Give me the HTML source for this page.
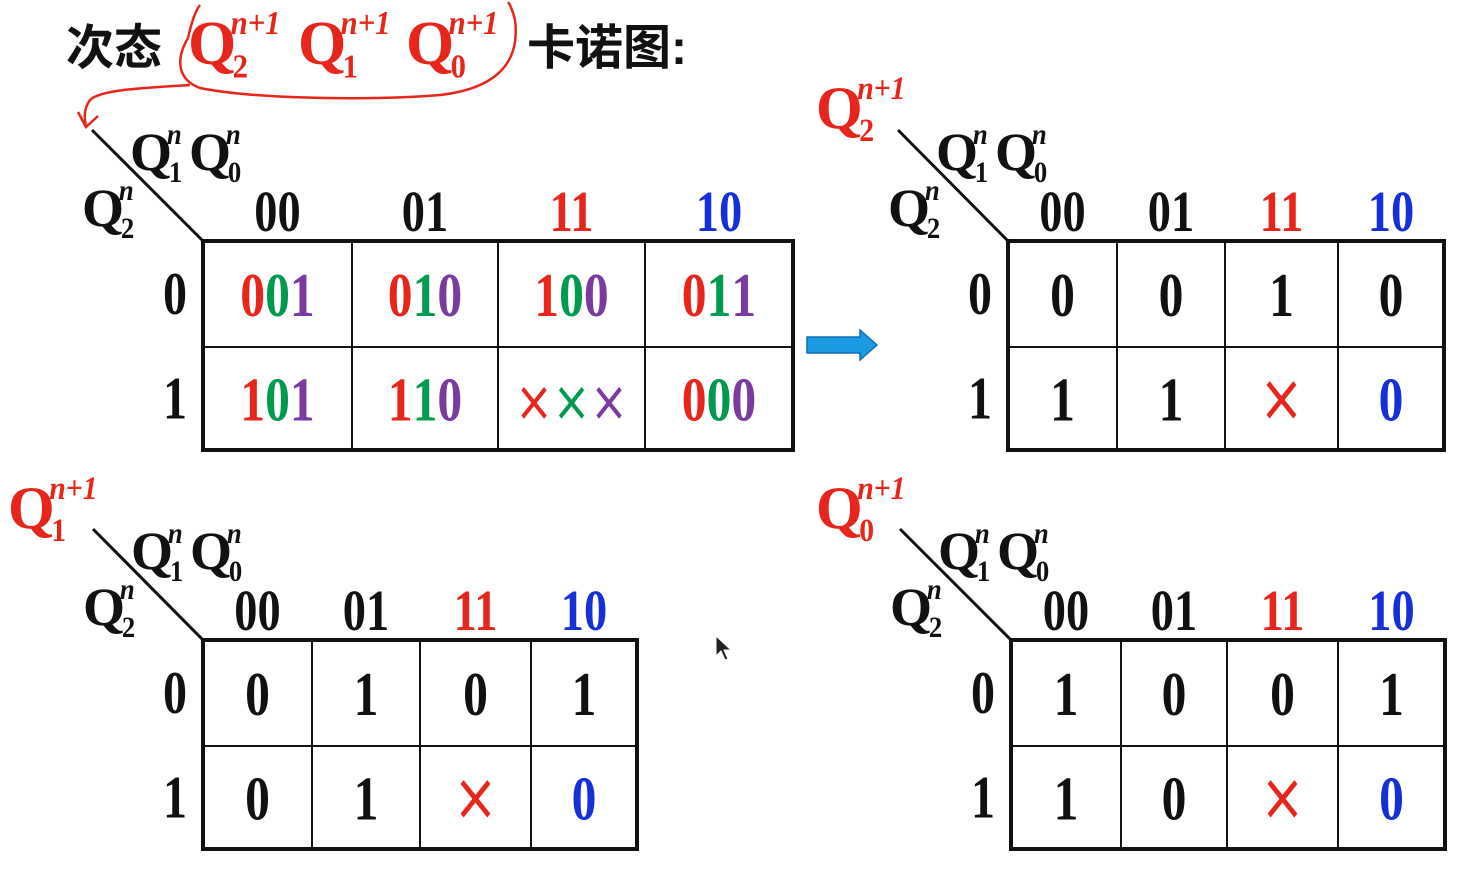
<!DOCTYPE html>
<html><head><meta charset="utf-8"><style>
html,body{margin:0;padding:0;background:#fff;width:1484px;height:875px;overflow:hidden}
svg{display:block}
text{font-family:"Liberation Serif","Noto Serif CJK SC",serif;font-weight:bold}
.cjk{font-family:"Liberation Sans","Noto Sans CJK SC",sans-serif;font-weight:bold}
</style></head><body>
<svg id="s" width="1484" height="875" viewBox="0 0 1484 875">
<text class="cjk" x="66" y="64" font-size="48" fill="#111">次态</text>
<text class="cjk" x="527" y="64" font-size="48" fill="#111">卡诺图:</text>
<path d="M188,38 C175,60 178,80 200,88 C260,100 380,100 440,95 C500,88 520,60 515,20 M188,38 C192,20 196,10 200,5 M515,20 C513,12 511,6 508,2" fill="none" stroke="#e8251b" stroke-width="2.5"/>
<path d="M190,85 C140,88 100,90 90,100 C84,108 84,118 86,126 M78,112 L86,127 L98,116" fill="none" stroke="#e8251b" stroke-width="2.5"/>
<path d="M807,337 L860,337 L860,330 L877,345 L860,360 L860,353 L807,353 Z" fill="#1a9ae0" stroke="#0f6fb0" stroke-width="1.5"/>
<path d="M716,636 L716,656 L721,651 L725,660 L728,659 L724,650 L731,650 Z" fill="#222" stroke="#fff" stroke-width="1"/>
</svg>
<script>
const colLabels = ["00","01","11","10"];
const colLabelColors = ["#111","#111","#e8251b","#1530d8"];
const rowLabels = ["0","1"];
const mapNext = [["001","010","100","011"],["101","110","×××","000"]];
const mapQ2 = [["0","0","1","0"],["1","1","×","0"]];
const mapQ1 = [["0","1","0","1"],["0","1","×","0"]];
const mapQ0 = [["1","0","0","1"],["1","0","×","0"]];
const digitColors = ["#e8251b","#009a4e","#7a3aa0"];

const NS="http://www.w3.org/2000/svg";
const svg=document.getElementById('s');
const SX=0.8;
function el(tag,attrs,parent){const e=document.createElementNS(NS,tag);for(const k in attrs)e.setAttribute(k,attrs[k]);(parent||svg).appendChild(e);return e;}
function txt(x,y,str,size,fill,parent,anchor,italic,sx){
  const g=el('g',{transform:'translate('+x+','+y+') scale('+(sx||SX)+',1)'},parent);
  const t=el('text',{x:0,y:0,'font-size':size,fill:fill,'text-anchor':anchor||'start'},g);
  if(italic)t.setAttribute('font-style','italic');
  t.textContent=str;return t;}
function Q(x,y,sub,sup,size,fill,parent){
  const g=el('g',{},parent);
  
  
  txt(x,y,'Q',size,fill,g,'start',false,1);
  const w=size*0.72;
  txt(x+w,y+size*0.22,sub,size*0.55,fill,g,'start',false,0.9);
  txt(x+w-2,y-size*0.48,sup,size*0.55,fill,g,'start',true,0.9);
  return g;
}
Q(188,64,'2','n+1',62,'#e8251b');
Q(298,64,'1','n+1',62,'#e8251b');
Q(406,64,'0','n+1',62,'#e8251b');

function drawMap(cfg){
  const g=el('g',{});
  
  
  const [x0,y0,x1,y1]=cfg.box;const cols=cfg.cols;const ymid=cfg.ymid;
  const ln=el('line',{x1:cfg.diag[0],y1:cfg.diag[1],x2:x0,y2:y0,stroke:'#111','stroke-width':3},g);
  
  
  for(let i=1;i<4;i++){el('line',{x1:cols[i],y1:y0,x2:cols[i],y2:y1,stroke:'#111','stroke-width':2},g);}
  el('line',{x1:x0,y1:ymid,x2:x1,y2:ymid,stroke:'#111','stroke-width':2},g);
  const r=el('rect',{x:x0,y:y0,width:x1-x0,height:y1-y0,fill:'none',stroke:'#111','stroke-width':4},g);
  
  
  Q(cfg.diag[0]+38,cfg.diag[1]+40,'1','n',54,'#111',g);
  Q(cfg.diag[0]+97,cfg.diag[1]+40,'0','n',54,'#111',g);
  Q(cfg.diag[0]-10,cfg.diag[1]+96,'2','n',54,'#111',g);
  if(cfg.title)Q(cfg.title[0],cfg.title[1],cfg.title[2],'n+1',60,'#e8251b',g);
  for(let c=0;c<4;c++){
    const cx=(cols[c]+cols[c+1])/2;
    const t=txt(cx,y0-10,colLabels[c],58,colLabelColors[c],g,'middle');
    
    
  }
  const rowsY=[(y0+ymid)/2,(ymid+y1)/2];
  for(let r2=0;r2<2;r2++){
    const t=txt(x0-16,rowsY[r2]+20,rowLabels[r2],60,'#111',g,'end');
    
    
    for(let c=0;c<4;c++){
      const cx=(cols[c]+cols[c+1])/2;const v=cfg.data[r2][c];
      const gg=el('g',{transform:'translate('+cx+','+(rowsY[r2]+22)+') scale('+SX+',1)'},g);
      const t2=el('text',{x:0,y:0,'font-size':62,'text-anchor':'middle'},gg);
      
      
      for(let k=0;k<v.length;k++){
        const sp=el('tspan',{},t2);
        let col;
        if(cfg.multi)col=digitColors[k];
        else if(v[k]==='×')col='#e8251b';
        else if(r2===1&&c===3)col='#1530d8';
        else col='#111';
        sp.setAttribute('fill',col);
        if(v[k]==='×'){sp.setAttribute('font-weight','normal');sp.setAttribute('font-family','DejaVu Sans');sp.setAttribute('font-size', cfg.multi?56:66);}
        sp.textContent=v[k];
      }
    }
  }
}
drawMap({name:'next-state-map',box:[203,241,793,450],cols:[203,352,498,645,793],ymid:347,diag:[92,130],data:mapNext,multi:true});
drawMap({name:'q2-next-map',box:[1008,241,1444,450],cols:[1008,1117,1225,1338,1444],ymid:347,diag:[898,130],data:mapQ2,title:[816,128,'2']});
drawMap({name:'q1-next-map',box:[203,640,637,849],cols:[203,312,420,531,637],ymid:746,diag:[93,529],data:mapQ1,title:[8,528,'1']});
drawMap({name:'q0-next-map',box:[1011,640,1445,849],cols:[1011,1121,1227,1338,1445],ymid:746,diag:[900,529],data:mapQ0,title:[816,528,'0']});
</script>
</body></html>
